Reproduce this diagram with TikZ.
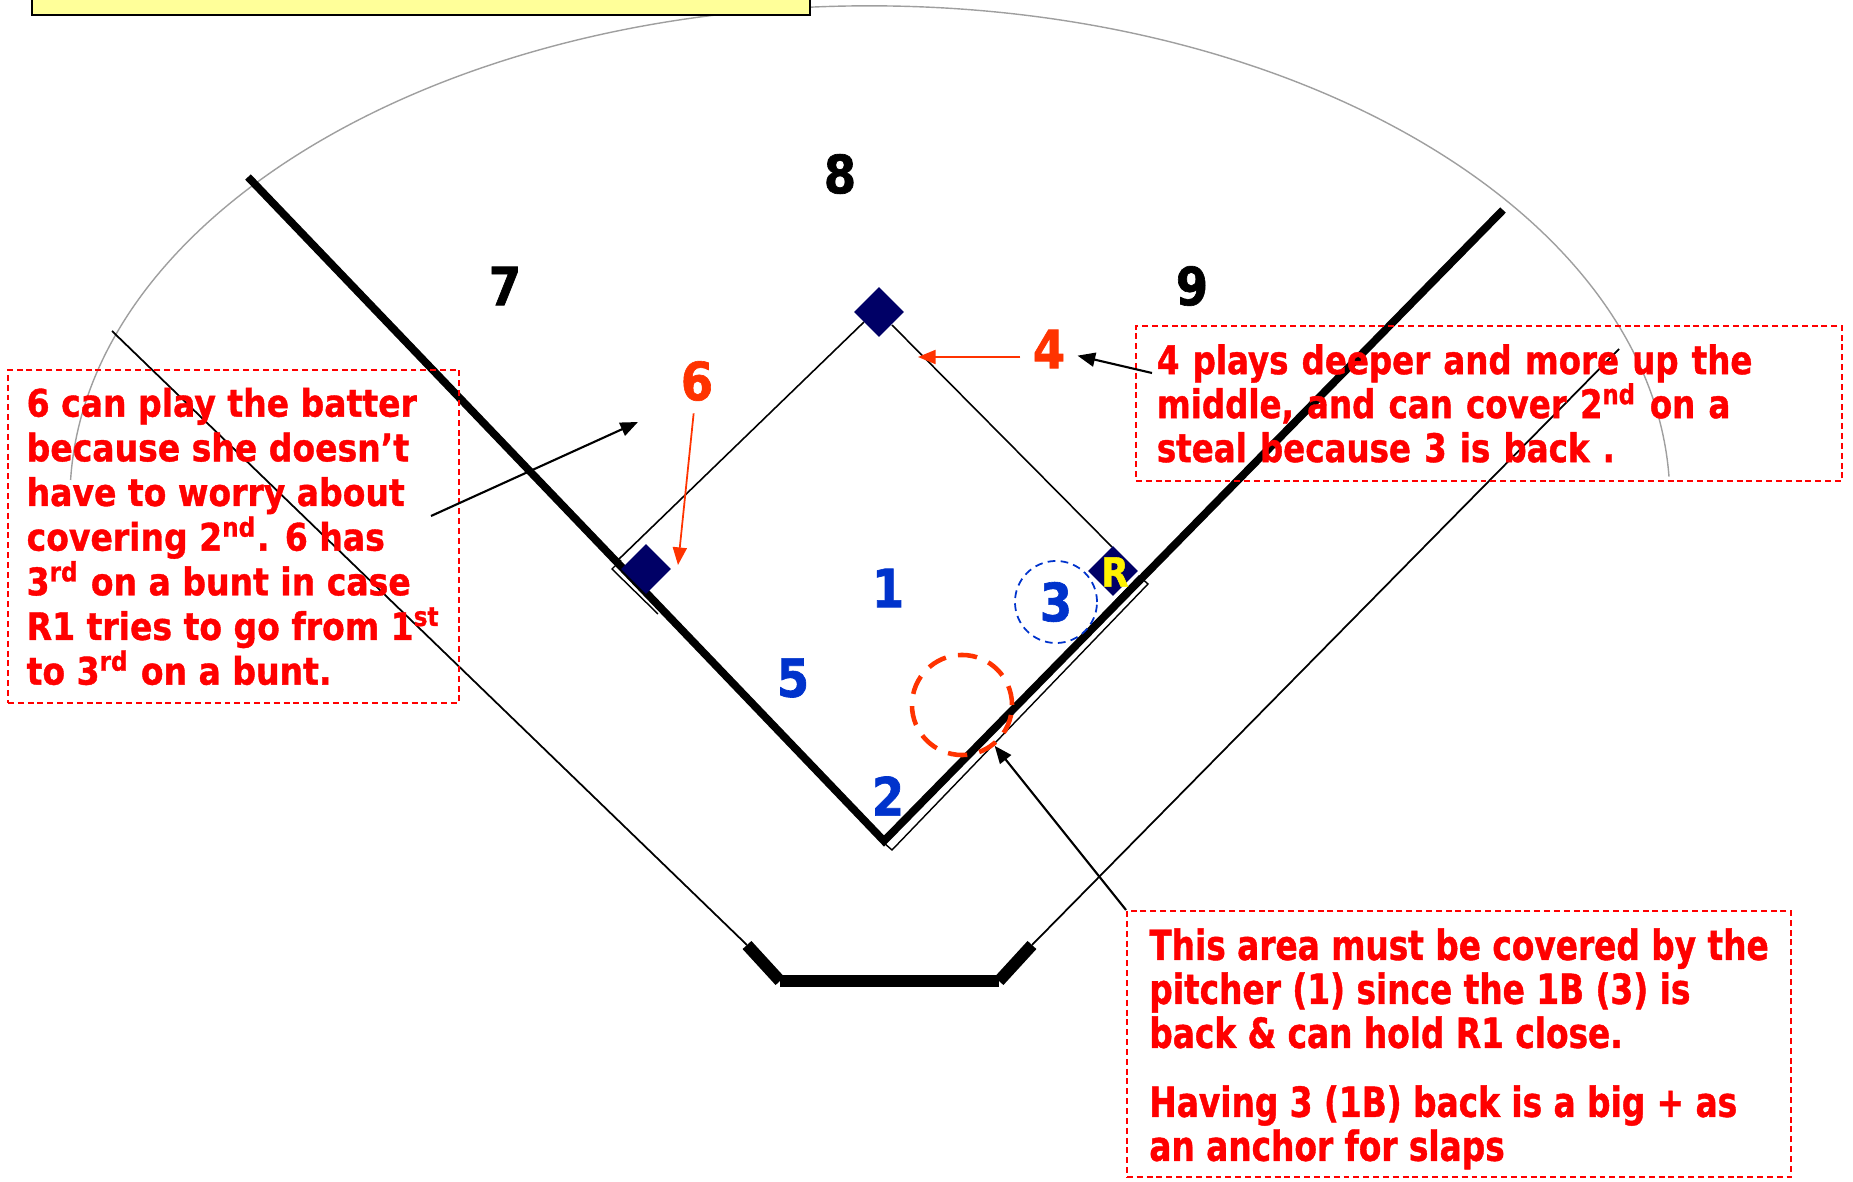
\documentclass[tikz,border=0pt]{standalone}
\usepackage{fontspec}
\setmainfont{DejaVu Sans}
\newfontfamily\numfont[FakeStretch=0.88,FakeBold=1.2]{DejaVu Sans}
\newfontfamily\notefontA[FakeStretch=0.87,FakeBold=1]{DejaVu Sans}
\newfontfamily\notefontB[FakeStretch=0.825,FakeBold=1]{DejaVu Sans}
\newfontfamily\notefontC[FakeStretch=0.79,FakeBold=1]{DejaVu Sans}
\usetikzlibrary{arrows.meta}
\definecolor{basenavy}{RGB}{0,0,102}
\definecolor{fieldorange}{RGB}{255,51,0}
\definecolor{fieldblue}{RGB}{0,51,204}
\definecolor{notered}{RGB}{255,0,0}
\definecolor{boxyellow}{RGB}{255,255,153}
\tikzset{
  base/.style={rectangle,fill=basenavy,minimum size=0.35cm,inner sep=0pt,rotate=45},
  fielder/.style={font=\numfont\bfseries\fontsize{15}{16}\selectfont},
  note/.style={draw=notered,dash pattern=on 1.7pt off 1.1pt,line width=0.5pt,
    text=notered,align=left,anchor=north west,inner ysep=0pt},
  callout/.style={-{Triangle[length=5pt,width=4pt]},line width=0.6pt},
}

\begin{document}
\begin{tikzpicture}[x=0.01cm,y=-0.01cm]
  \useasboundingbox (0,0) rectangle (1853,1182);
  % outfield arc and title box
  \draw[gray!75,line width=0.4pt] (70.6,480) arc[start angle=182.3,end angle=357.3,x radius=800,y radius=494];
  \node[draw,fill=boxyellow,line width=0.7pt,minimum width=7.78cm,minimum height=0.4cm,inner sep=0pt] (title) at (421,-5) {};
  % fences
  \draw[line width=0.5pt] (112,331)--(747,945);
  \draw[line width=0.5pt] (1032,945)--(1619,349);
  \draw[line width=3.4pt] (747,945)--(780,981);
  \draw[line width=3.4pt] (780,981)--(999,981);
  \draw[line width=3.4pt] (999,981)--(1032,945);
  % foul lines
  \draw[line width=0.4pt,fill=white] (884,843)--(1139,576)--(1148,584)--(892,850)--cycle;
  \draw[line width=0.4pt] (621,560)--(612,569)--(658,614);
  \draw[line width=2.2pt] (248,177)--(884,841)--(1503,210);
  % base paths
  \draw[line width=0.45pt] (618,560)--(864,322);
  \draw[line width=0.45pt] (892,325)--(1112,547);
  \node[base] (second) at (879,312) {};
  \node[base] (third) at (646,569) {};
  \node[base] (first) at (1113,571) {};
  \node[font=\numfont\bfseries\fontsize{11.5}{12}\selectfont,text=yellow,inner sep=0pt] (runner) at (1115,572) {R};
  % fielders
  \node[fielder] (lbl8) at (840,174) {8};
  \node[fielder] (lbl7) at (505,286) {7};
  \node[fielder] (lbl9) at (1192,286) {9};
  \node[fielder,text=fieldorange] (lbl4) at (1049,349) {4};
  \node[fielder,text=fieldorange] (lbl6) at (697,381) {6};
  \node[fielder,text=fieldblue] (lbl1) at (888,588) {1};
  \node[fielder,text=fieldblue] (lbl5) at (793,678) {5};
  \node[fielder,text=fieldblue] (lbl2) at (888,796) {2};
  \node[fielder,text=fieldblue,circle,draw=fieldblue,dash pattern=on 2.2pt off 1.5pt,line width=0.5pt,
    minimum size=0.82cm,inner sep=0pt] (cover3) at (1056,602) {3};
  \node[circle,draw=fieldorange,line width=1.3pt,dash pattern=on 5.5pt off 3.5pt,minimum size=1cm] (area) at (962,705) {};
  % notes
  \node[note,font=\notefontA\bfseries\fontsize{10.8}{12.7}\selectfont,minimum width=4.51cm,minimum height=3.33cm] (note6) at (7,369)
    {6 can play the batter\\because she doesn’t\\have to worry about\\covering 2\textsuperscript{nd}. 6 has\\3\textsuperscript{rd} on a bunt in case\\R1 tries to go from 1\textsuperscript{st}\\to 3\textsuperscript{rd} on a bunt.};
  \node[note,font=\notefontB\bfseries\fontsize{11.2}{12.5}\selectfont,minimum width=7.06cm,minimum height=1.55cm,
    inner xsep=0.21cm,text width=6.64cm] (note4) at (1135,325)
    {4 plays deeper and more up the\\middle, and can cover 2\textsuperscript{nd} on a\\steal because 3 is back .};
  \node[note,font=\notefontC\bfseries\fontsize{11.8}{12.5}\selectfont,minimum width=6.64cm,minimum height=2.66cm] (notep) at (1126,910)
    {\rule{0pt}{11.8pt}This area must be covered by the\\pitcher (1) since the 1B (3) is\\back \& can hold R1 close.\\[0.25cm]Having 3 (1B) back is a big + as\\an anchor for slaps};
  % callouts
  \coordinate (tip4) at (918,357);
  \draw[callout,fieldorange,line width=0.5pt] (lbl4.west |- tip4)--(tip4);
  \coordinate (tail4) at (1152,373);
  \draw[callout] (tail4)--(lbl4);
  \coordinate (tip6) at (678,565);
  \draw[callout,fieldorange,line width=0.5pt] (lbl6)--(tip6);
  \coordinate (tail6) at (431,516);
  \coordinate (spot6) at (638,422);
  \draw[callout] (tail6)--(spot6);
  \draw[callout] (notep.north west)--(area);
\end{tikzpicture}
\end{document}
